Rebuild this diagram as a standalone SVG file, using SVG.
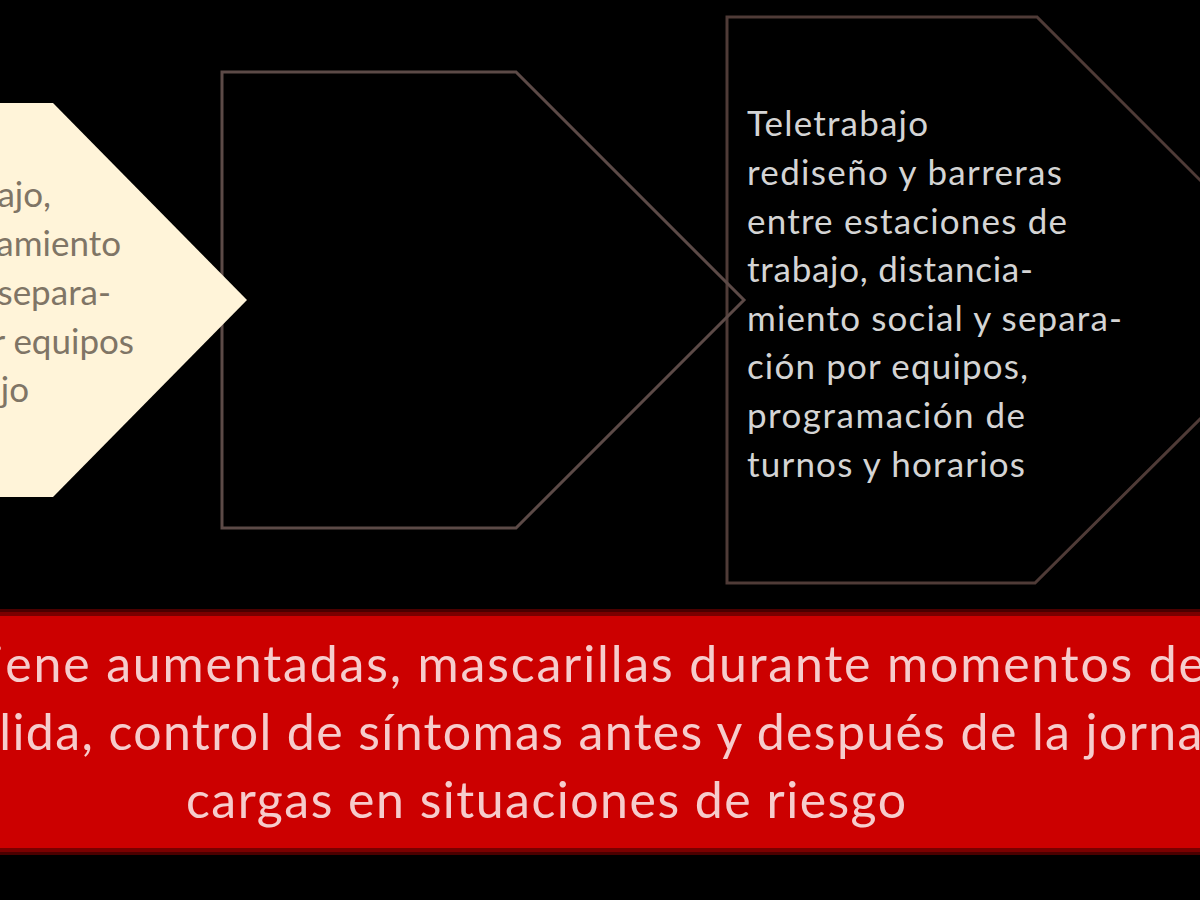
<svg xmlns="http://www.w3.org/2000/svg" width="1200" height="900" viewBox="0 0 1200 900">
  <style>
    .outline { fill: none; stroke-width: 3; stroke-linejoin: miter; }
    .txt { font-family: Lato, "Open Sans", "Liberation Sans", sans-serif; }
    .box { font-size: 35px; fill: #d4d4d4; }
    .cream { font-size: 35px; fill: #7f7566; text-anchor: end; }
    .band { font-size: 50px; fill: #f6cccc; }
  </style>
  <rect x="0" y="0" width="1200" height="900" fill="#000000"/>

  <g id="node-right">
    <polygon class="outline" stroke="#4f3b37" points="727,17 1037,17 1320,300 1035,583 727,583"/>
    <text class="txt box" x="747" y="136" textLength="181" lengthAdjust="spacing">Teletrabajo</text>
    <text class="txt box" x="747" y="185" textLength="315" lengthAdjust="spacing">rediseño y barreras</text>
    <text class="txt box" x="747" y="234" textLength="320" lengthAdjust="spacing">entre estaciones de</text>
    <text class="txt box" x="747" y="282" textLength="286" lengthAdjust="spacing">trabajo, distancia-</text>
    <text class="txt box" x="747" y="331" textLength="375" lengthAdjust="spacing">miento social y separa-</text>
    <text class="txt box" x="747" y="379" textLength="281" lengthAdjust="spacing">ción por equipos,</text>
    <text class="txt box" x="747" y="428" textLength="278" lengthAdjust="spacing">programación de</text>
    <text class="txt box" x="747" y="477" textLength="278" lengthAdjust="spacing">turnos y horarios</text>
  </g>

  <g id="node-middle">
    <polygon class="outline" stroke="#5c4a47" points="222,72 516,72 744,300 516,528 222,528"/>
  </g>

  <g id="node-left">
    <polygon fill="#fff4d9" points="-300,103 53,103 247,300 53,497 -300,497"/>
    <text class="txt cream" x="51" y="207">Teletrabajo,</text>
    <text class="txt cream" x="121" y="256">distanciamiento</text>
    <text class="txt cream" x="111" y="305">social y separa-</text>
    <text class="txt cream" x="134" y="354">ción por equipos</text>
    <text class="txt cream" x="29" y="402">de trabajo</text>
  </g>

  <g id="connectors"></g>

  <g id="node-bottom">
    <rect x="-20" y="609" width="1240" height="246" fill="#4a0000"/>
    <rect x="-10" y="614" width="1220" height="236" fill="#cc0000" stroke="#7a0000" stroke-width="4"/>
    <text class="txt band" x="-80" y="682" textLength="1285" lengthAdjust="spacing">higiene aumentadas, mascarillas durante momentos de</text>
    <text class="txt band" x="-50" y="750" textLength="1308" lengthAdjust="spacing">salida, control de síntomas antes y después de la jornada</text>
    <text class="txt band" x="186" y="818" textLength="720" lengthAdjust="spacing">cargas en situaciones de riesgo</text>
  </g>
</svg>
